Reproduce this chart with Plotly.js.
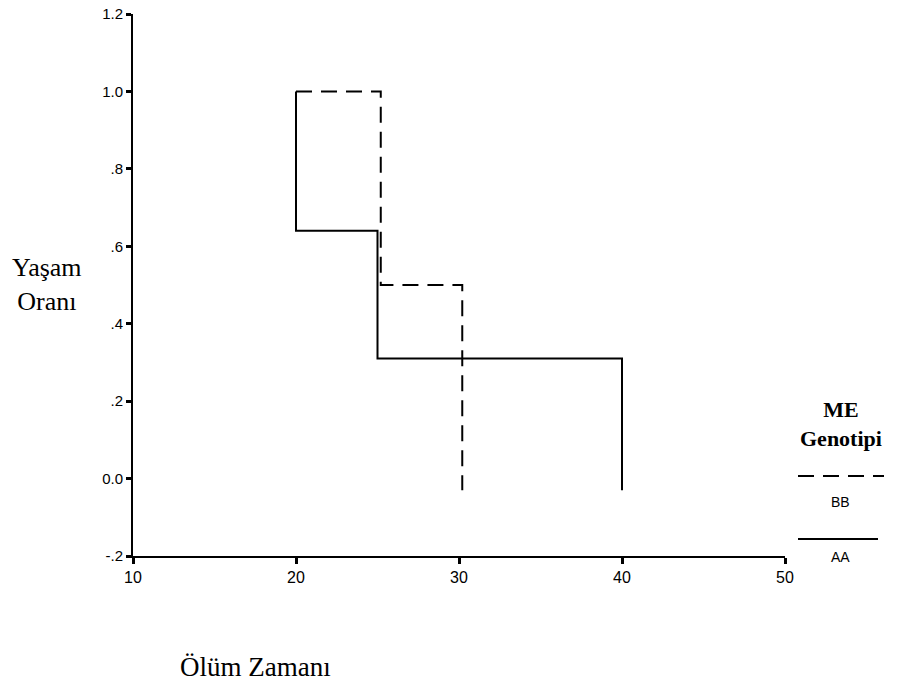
<!DOCTYPE html>
<html>
<head>
<meta charset="utf-8">
<script src="https://cdn.plot.ly/plotly-3.0.1.min.js"></script>
<style>html,body{margin:0;padding:0;background:#fff;}#chart{width:911px;height:682px;}</style>
</head>
<body>
<div id="chart"></div>
<script>
// Kaplan-Meier step data (time of step, survival level)
const aaTimes = [20, 20, 25, 40];
const aaSurvival = [1.0, 0.64, 0.31, -0.03];
const bbTimes = [20, 25.2, 30.2];
const bbSurvival = [1.0, 0.5, -0.03];

const xTickVals = [10, 20, 30, 40, 50];
const yTickVals = [-0.2, 0, 0.2, 0.4, 0.6, 0.8, 1.0, 1.2];
const yTickText = ["-.2", "0.0", ".2", ".4", ".6", ".8", "1.0", "1.2"];

const W = 911, H = 682;
const M = {l: 133, r: 126, t: 14, b: 126};
const PW = W - M.l - M.r, PH = H - M.t - M.b;
const px = x => (x - M.l) / PW;
const py = y => (H - M.b - y) / PH;

const serif = "Liberation Serif, Times New Roman, serif";
const sans = "Liberation Sans, Arial, sans-serif";

const traces = [
  {x: bbTimes, y: bbSurvival, mode: 'lines', line: {shape: 'hv', color: '#000', width: 2, dash: '16px,9px'}, name: 'BB', showlegend: false, hoverinfo: 'skip'},
  {x: aaTimes, y: aaSurvival, mode: 'lines', line: {shape: 'hv', color: '#000', width: 2}, name: 'AA', showlegend: false, hoverinfo: 'skip'}
];

function ann(x, y, text, font, extra) {
  return Object.assign({xref: 'paper', yref: 'paper', x: px(x), y: py(y), xanchor: 'center', yanchor: 'middle', text: text, showarrow: false, align: 'center', font: font}, extra || {});
}

const layout = {
  width: W, height: H,
  margin: M,
  paper_bgcolor: '#fff', plot_bgcolor: '#fff',
  showlegend: false,
  xaxis: {
    range: [10, 50], tickvals: xTickVals, ticktext: xTickVals.map(String),
    showline: true, linecolor: '#000', linewidth: 2, ticks: 'outside', ticklen: 6, tickwidth: 3, tickcolor: '#000',
    showgrid: false, zeroline: false, tickfont: {family: sans, size: 16, color: '#000'}
  },
  yaxis: {
    range: [-0.2, 1.2], tickvals: yTickVals, ticktext: yTickText,
    showline: true, linecolor: '#000', linewidth: 2, ticks: 'outside', ticklen: 5, tickwidth: 3, tickcolor: '#000',
    showgrid: false, zeroline: false, tickfont: {family: sans, size: 15, color: '#000'}
  },
  annotations: [
    ann(47, 284, 'Yaşam<br>Oranı', {family: serif, size: 26, color: '#000'}),
    ann(255, 667, 'Ölüm Zamanı', {family: serif, size: 27, color: '#000'}),
    ann(841, 424, '<b>ME</b><br><b>Genotipi</b>', {family: serif, size: 22, color: '#000'}),
    ann(840, 502, 'BB', {family: sans, size: 14, color: '#000'}),
    ann(840, 557, 'AA', {family: sans, size: 14, color: '#000'})
  ],
  shapes: [
    {type: 'line', xref: 'paper', yref: 'paper', x0: px(798), x1: px(884), y0: py(476), y1: py(476), line: {color: '#000', width: 2, dash: '16px,9px'}},
    {type: 'line', xref: 'paper', yref: 'paper', x0: px(798), x1: px(878), y0: py(539), y1: py(539), line: {color: '#000', width: 2}}
  ]
};

Plotly.newPlot('chart', traces, layout, {displayModeBar: false, staticPlot: true});
</script>
</body>
</html>
